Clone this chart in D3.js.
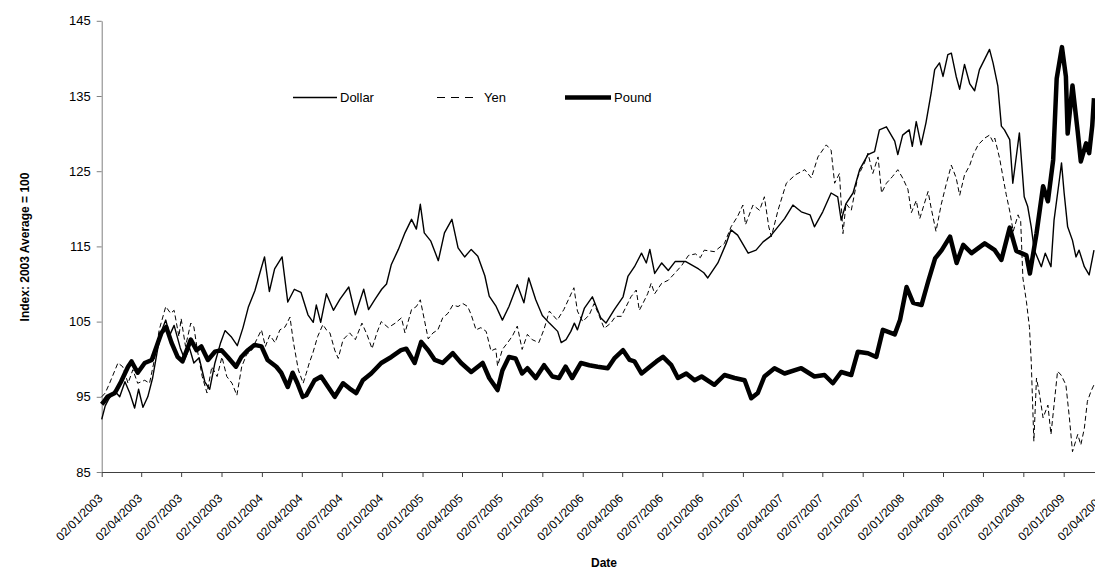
<!DOCTYPE html>
<html>
<head>
<meta charset="utf-8">
<script src="https://d3js.org/d3.v7.min.js"></script>
<style>
    body { margin: 0; background: #fff; }
    svg text { font-family: Arial, "Liberation Sans", sans-serif; fill: #000; }
</style>
</head>
<body>
<script>

    // Exchange rate indices, 2003 average = 100
    var dollar = [
        ["2003-01-02", 92.0], ["2003-01-10", 93.8], ["2003-01-17", 94.6], ["2003-01-31", 95.8], ["2003-02-12", 95.0],
        ["2003-02-24", 97.0], ["2003-03-07", 95.5], ["2003-03-18", 93.5], ["2003-03-27", 96.0], ["2003-04-06", 93.6],
        ["2003-04-17", 95.0], ["2003-04-28", 97.5], ["2003-05-10", 101.5], ["2003-05-20", 104.0], ["2003-05-28", 105.2],
        ["2003-06-06", 103.2], ["2003-06-16", 104.5], ["2003-06-30", 101.5], ["2003-07-10", 100.0], ["2003-07-21", 101.5],
        ["2003-07-31", 99.5], ["2003-08-12", 100.2], ["2003-08-25", 97.0], ["2003-09-05", 96.0], ["2003-09-17", 99.5],
        ["2003-09-30", 102.2], ["2003-10-10", 103.8], ["2003-10-24", 103.0], ["2003-11-07", 101.8], ["2003-11-20", 104.2],
        ["2003-12-02", 106.9], ["2003-12-17", 109.1], ["2003-12-31", 112.0], ["2004-01-08", 113.6], ["2004-01-19", 109.0],
        ["2004-01-31", 112.0], ["2004-02-17", 113.6], ["2004-03-01", 107.6], ["2004-03-16", 109.3], ["2004-03-31", 108.9],
        ["2004-04-16", 105.9], ["2004-04-28", 104.9], ["2004-05-05", 107.2], ["2004-05-15", 104.9], ["2004-05-28", 108.7],
        ["2004-06-13", 106.5], ["2004-06-28", 108.0], ["2004-07-18", 109.6], ["2004-08-02", 105.9], ["2004-08-21", 109.3],
        ["2004-09-01", 106.6], ["2004-09-16", 108.0], ["2004-10-01", 109.3], ["2004-10-12", 110.0], ["2004-10-23", 112.6],
        ["2004-11-08", 114.6], ["2004-11-23", 116.8], ["2004-12-08", 118.6], ["2004-12-19", 117.3], ["2004-12-28", 120.6],
        ["2005-01-06", 116.8], ["2005-01-21", 115.7], ["2005-02-07", 113.1], ["2005-02-21", 116.8], ["2005-03-10", 118.6],
        ["2005-03-24", 114.8], ["2005-04-08", 113.6], ["2005-04-23", 114.6], ["2005-05-08", 113.7], ["2005-05-24", 111.1],
        ["2005-06-03", 108.4], ["2005-06-18", 107.1], ["2005-07-03", 105.2], ["2005-07-18", 107.0], ["2005-08-06", 109.9],
        ["2005-08-21", 107.5], ["2005-09-01", 110.8], ["2005-09-17", 107.9], ["2005-10-02", 105.8], ["2005-10-18", 104.8],
        ["2005-11-06", 103.7], ["2005-11-14", 102.2], ["2005-11-25", 102.6], ["2005-12-06", 103.7], ["2005-12-14", 104.8],
        ["2005-12-21", 103.9], ["2006-01-06", 106.8], ["2006-01-24", 108.3], ["2006-02-12", 105.5], ["2006-02-24", 104.8],
        ["2006-03-15", 106.6], ["2006-04-04", 108.3], ["2006-04-15", 111.0], ["2006-04-30", 112.3], ["2006-05-16", 114.1],
        ["2006-05-27", 112.8], ["2006-06-04", 114.6], ["2006-06-15", 111.4], ["2006-07-01", 112.8], ["2006-07-16", 111.8],
        ["2006-08-01", 113.0], ["2006-08-24", 113.0], ["2006-09-08", 112.5], ["2006-09-23", 112.0], ["2006-10-05", 111.5],
        ["2006-10-14", 110.8], ["2006-11-06", 112.8], ["2006-11-25", 115.4], ["2006-12-06", 117.2], ["2006-12-21", 116.5],
        ["2007-01-14", 114.1], ["2007-02-01", 114.5], ["2007-02-17", 115.6], ["2007-03-05", 116.3], ["2007-03-20", 117.4],
        ["2007-04-07", 118.7], ["2007-04-26", 120.5], ["2007-05-15", 119.6], ["2007-06-04", 119.2], ["2007-06-14", 117.6],
        ["2007-07-03", 119.6], ["2007-07-22", 122.1], ["2007-08-06", 121.6], ["2007-08-14", 118.5], ["2007-08-25", 120.7],
        ["2007-09-10", 122.1], ["2007-09-25", 125.2], ["2007-10-14", 127.2], ["2007-10-29", 127.6], ["2007-11-09", 130.5],
        ["2007-11-25", 130.9], ["2007-12-14", 129.0], ["2007-12-21", 127.2], ["2008-01-01", 129.8], ["2008-01-16", 130.5],
        ["2008-01-23", 128.3], ["2008-02-01", 131.6], ["2008-02-12", 128.5], ["2008-02-23", 131.4], ["2008-03-06", 135.4],
        ["2008-03-14", 138.5], ["2008-03-25", 139.4], ["2008-04-02", 137.6], ["2008-04-13", 140.5], ["2008-04-21", 140.7],
        ["2008-05-02", 137.6], ["2008-05-10", 135.9], ["2008-05-21", 139.2], ["2008-06-02", 136.6], ["2008-06-13", 135.7],
        ["2008-06-24", 138.5], ["2008-07-06", 139.9], ["2008-07-17", 141.2], ["2008-07-25", 139.4], ["2008-08-05", 136.3],
        ["2008-08-13", 131.0], ["2008-08-20", 130.5], ["2008-09-01", 129.2], ["2008-09-08", 123.4], ["2008-09-23", 130.1],
        ["2008-10-04", 121.6], ["2008-10-12", 120.3], ["2008-10-20", 117.6], ["2008-10-27", 114.5], ["2008-11-12", 112.3],
        ["2008-11-21", 114.1], ["2008-12-04", 112.3], ["2008-12-11", 118.5], ["2008-12-23", 123.8], ["2008-12-28", 126.1],
        ["2009-01-03", 122.1], ["2009-01-11", 117.6], ["2009-01-22", 115.8], ["2009-01-30", 113.6], ["2009-02-06", 114.5],
        ["2009-02-18", 112.3], ["2009-03-01", 111.2], ["2009-03-12", 114.5]
    ];

    var yen = [
        ["2003-01-02", 95.0], ["2003-01-10", 95.5], ["2003-01-20", 96.8], ["2003-02-08", 99.5], ["2003-02-19", 99.0],
        ["2003-03-03", 96.8], ["2003-03-14", 98.6], ["2003-03-25", 96.8], ["2003-04-10", 97.2], ["2003-04-21", 96.8],
        ["2003-05-02", 99.9], ["2003-05-13", 103.9], ["2003-05-28", 107.0], ["2003-06-08", 106.1], ["2003-06-16", 106.5],
        ["2003-06-27", 103.0], ["2003-07-02", 105.4], ["2003-07-12", 101.7], ["2003-07-24", 104.8], ["2003-07-31", 104.3],
        ["2003-08-08", 101.2], ["2003-08-19", 97.7], ["2003-08-30", 95.5], ["2003-09-10", 99.0], ["2003-09-22", 97.7],
        ["2003-10-03", 100.3], ["2003-10-14", 97.7], ["2003-10-26", 96.8], ["2003-11-06", 95.2], ["2003-11-17", 99.0],
        ["2003-11-28", 100.6], ["2003-12-10", 101.2], ["2003-12-21", 102.6], ["2004-01-01", 103.9], ["2004-01-10", 101.7],
        ["2004-01-20", 103.2], ["2004-02-01", 102.2], ["2004-02-12", 103.9], ["2004-02-24", 104.3], ["2004-03-06", 105.6],
        ["2004-03-14", 102.2], ["2004-03-25", 98.6], ["2004-04-05", 96.8], ["2004-04-12", 98.1], ["2004-04-19", 99.5],
        ["2004-04-27", 100.8], ["2004-05-08", 103.0], ["2004-05-20", 104.6], ["2004-05-28", 103.9], ["2004-06-05", 103.5],
        ["2004-06-16", 101.2], ["2004-06-24", 100.1], ["2004-07-05", 102.6], ["2004-07-20", 103.5], ["2004-08-02", 102.6],
        ["2004-08-17", 104.8], ["2004-08-29", 103.2], ["2004-09-09", 101.4], ["2004-09-20", 103.5], ["2004-09-30", 105.0],
        ["2004-10-16", 104.2], ["2004-11-01", 104.8], ["2004-11-15", 105.5], ["2004-11-23", 103.5], ["2004-12-08", 106.6],
        ["2004-12-19", 107.0], ["2004-12-28", 107.9], ["2005-01-06", 105.3], ["2005-01-15", 102.7], ["2005-01-26", 103.5],
        ["2005-02-06", 103.9], ["2005-02-17", 105.5], ["2005-03-01", 106.1], ["2005-03-12", 107.2], ["2005-03-24", 107.0],
        ["2005-04-04", 107.4], ["2005-04-15", 107.0], ["2005-04-23", 105.9], ["2005-05-04", 103.9], ["2005-05-15", 104.2],
        ["2005-05-27", 103.7], ["2005-06-07", 101.1], ["2005-06-18", 101.4], ["2005-06-22", 99.1], ["2005-07-03", 101.3],
        ["2005-07-15", 102.2], ["2005-07-26", 103.1], ["2005-08-06", 104.4], ["2005-08-17", 101.3], ["2005-08-29", 103.3],
        ["2005-09-09", 102.6], ["2005-09-24", 102.2], ["2005-10-06", 104.0], ["2005-10-18", 106.4], ["2005-11-05", 105.2],
        ["2005-11-20", 106.6], ["2005-12-13", 109.5], ["2005-12-21", 106.4], ["2006-01-02", 105.0], ["2006-01-17", 105.9],
        ["2006-01-28", 107.4], ["2006-02-09", 105.7], ["2006-02-20", 104.1], ["2006-03-07", 104.8], ["2006-03-18", 105.7],
        ["2006-03-31", 105.7], ["2006-04-11", 107.0], ["2006-04-22", 108.3], ["2006-05-04", 109.2], ["2006-05-11", 106.5],
        ["2006-05-19", 107.4], ["2006-05-30", 108.7], ["2006-06-07", 110.1], ["2006-06-15", 108.7], ["2006-07-01", 110.1],
        ["2006-07-16", 110.5], ["2006-08-01", 111.5], ["2006-08-16", 112.5], ["2006-08-31", 113.8], ["2006-09-16", 114.0],
        ["2006-09-27", 113.5], ["2006-10-06", 114.5], ["2006-10-29", 114.3], ["2006-11-21", 115.4], ["2006-12-06", 117.6],
        ["2006-12-21", 119.0], ["2007-01-02", 120.5], ["2007-01-08", 117.9], ["2007-01-25", 120.5], ["2007-02-09", 119.8],
        ["2007-02-20", 121.6], ["2007-03-02", 117.6], ["2007-03-08", 116.3], ["2007-03-23", 119.8], ["2007-04-11", 123.4],
        ["2007-05-01", 124.5], ["2007-05-23", 125.2], ["2007-06-07", 124.1], ["2007-06-22", 126.9], ["2007-07-11", 128.5],
        ["2007-07-22", 127.8], ["2007-07-30", 123.4], ["2007-08-10", 124.7], ["2007-08-18", 116.7], ["2007-08-25", 120.7],
        ["2007-09-06", 119.8], ["2007-09-21", 124.3], ["2007-10-06", 126.1], ["2007-10-14", 127.4], ["2007-10-25", 124.7],
        ["2007-11-06", 126.9], ["2007-11-14", 122.1], ["2007-11-25", 123.4], ["2007-12-09", 124.3], ["2007-12-21", 125.2],
        ["2008-01-01", 124.1], ["2008-01-13", 122.6], ["2008-01-21", 119.5], ["2008-02-01", 121.1], ["2008-02-09", 118.7],
        ["2008-02-28", 122.3], ["2008-03-06", 120.1], ["2008-03-17", 117.0], ["2008-03-29", 120.6], ["2008-04-09", 123.2],
        ["2008-04-21", 125.8], ["2008-05-02", 124.1], ["2008-05-10", 121.8], ["2008-05-21", 124.5], ["2008-06-02", 125.8],
        ["2008-06-10", 127.2], ["2008-06-21", 128.5], ["2008-07-06", 129.4], ["2008-07-17", 129.8], ["2008-07-25", 128.9],
        ["2008-07-29", 129.4], ["2008-08-09", 126.7], ["2008-08-17", 124.1], ["2008-08-24", 121.9], ["2008-09-01", 119.7],
        ["2008-09-09", 117.0], ["2008-09-20", 119.2], ["2008-09-26", 118.3], ["2008-10-01", 110.8], ["2008-10-09", 107.7],
        ["2008-10-16", 104.2], ["2008-10-20", 99.7], ["2008-10-26", 89.1], ["2008-11-01", 97.5], ["2008-11-08", 95.3],
        ["2008-11-16", 92.2], ["2008-11-27", 93.9], ["2008-12-04", 90.0], ["2008-12-19", 98.4], ["2008-12-27", 97.9],
        ["2009-01-07", 96.6], ["2009-01-15", 92.2], ["2009-01-22", 87.7], ["2009-02-03", 90.0], ["2009-02-10", 88.6],
        ["2009-02-18", 90.8], ["2009-02-25", 94.4], ["2009-03-05", 95.7], ["2009-03-12", 96.6]
    ];

    var pound = [
        ["2003-01-02", 94.0], ["2003-01-05", 94.2], ["2003-01-15", 95.0], ["2003-02-01", 95.5], ["2003-02-15", 97.0],
        ["2003-03-03", 99.0], ["2003-03-11", 99.7], ["2003-03-25", 98.2], ["2003-04-10", 99.5], ["2003-04-26", 99.9],
        ["2003-05-07", 101.7], ["2003-05-18", 103.5], ["2003-05-29", 104.3], ["2003-06-10", 102.2], ["2003-06-24", 100.3],
        ["2003-07-05", 99.7], ["2003-07-24", 102.6], ["2003-08-06", 101.2], ["2003-08-17", 101.7], ["2003-09-01", 99.9],
        ["2003-09-17", 101.0], ["2003-10-02", 101.2], ["2003-10-16", 100.3], ["2003-11-04", 99.0], ["2003-11-16", 100.3],
        ["2003-12-01", 101.2], ["2003-12-16", 101.9], ["2004-01-01", 101.7], ["2004-01-15", 99.9], ["2004-02-04", 99.0],
        ["2004-02-15", 98.2], ["2004-03-01", 96.3], ["2004-03-12", 98.2], ["2004-03-23", 96.8], ["2004-04-04", 95.0],
        ["2004-04-12", 95.2], ["2004-05-01", 97.2], ["2004-05-16", 97.7], ["2004-06-01", 96.3], ["2004-06-16", 95.0],
        ["2004-07-05", 96.8], ["2004-07-20", 96.1], ["2004-08-04", 95.5], ["2004-08-19", 97.2], ["2004-09-07", 98.1],
        ["2004-09-30", 99.5], ["2004-10-23", 100.3], ["2004-11-14", 101.2], ["2004-11-26", 101.4], ["2004-12-15", 99.5],
        ["2004-12-30", 102.3], ["2005-01-15", 101.2], ["2005-01-30", 99.9], ["2005-02-17", 99.5], ["2005-03-12", 100.8],
        ["2005-03-31", 99.5], ["2005-04-23", 98.3], ["2005-05-19", 99.5], ["2005-06-03", 97.5], ["2005-06-22", 95.9],
        ["2005-07-03", 98.5], ["2005-07-18", 100.3], ["2005-08-02", 100.1], ["2005-08-17", 98.1], ["2005-08-29", 98.8],
        ["2005-09-17", 97.5], ["2005-10-06", 99.2], ["2005-10-25", 97.7], ["2005-11-09", 97.5], ["2005-11-24", 99.0],
        ["2005-12-09", 97.5], ["2005-12-29", 99.5], ["2006-01-17", 99.2], ["2006-02-05", 99.0], ["2006-02-28", 98.8],
        ["2006-03-15", 100.1], ["2006-04-04", 101.2], ["2006-04-19", 99.9], ["2006-04-30", 99.7], ["2006-05-16", 98.1],
        ["2006-06-04", 99.0], ["2006-06-19", 99.7], ["2006-07-04", 100.3], ["2006-07-23", 99.2], ["2006-08-07", 97.5],
        ["2006-08-26", 98.1], ["2006-09-14", 97.2], ["2006-09-30", 97.7], ["2006-10-29", 96.6], ["2006-11-21", 97.9],
        ["2006-12-14", 97.5], ["2007-01-06", 97.2], ["2007-01-21", 94.8], ["2007-02-05", 95.5], ["2007-02-20", 97.7],
        ["2007-03-15", 98.8], ["2007-04-07", 98.1], ["2007-05-15", 98.8], ["2007-06-14", 97.7], ["2007-07-07", 97.9],
        ["2007-07-26", 96.8], ["2007-08-14", 98.3], ["2007-09-06", 97.9], ["2007-09-21", 101.0], ["2007-10-14", 100.8],
        ["2007-11-02", 100.3], ["2007-11-17", 103.9], ["2007-12-14", 103.3], ["2007-12-26", 105.2], ["2008-01-10", 109.6],
        ["2008-01-25", 107.5], ["2008-02-13", 107.2], ["2008-02-28", 110.3], ["2008-03-15", 113.4], ["2008-03-30", 114.5],
        ["2008-04-18", 116.3], ["2008-05-03", 112.8], ["2008-05-18", 115.2], ["2008-06-06", 114.1], ["2008-07-06", 115.4],
        ["2008-07-29", 114.5], ["2008-08-13", 113.2], ["2008-09-01", 117.5], ["2008-09-16", 114.4], ["2008-10-09", 113.8],
        ["2008-10-17", 111.4], ["2008-11-01", 116.7], ["2008-11-16", 123.0], ["2008-11-27", 121.0], ["2008-12-09", 126.5],
        ["2008-12-17", 137.3], ["2008-12-29", 141.5], ["2009-01-07", 137.6], ["2009-01-11", 130.0], ["2009-01-22", 136.4],
        ["2009-02-03", 130.2], ["2009-02-10", 126.3], ["2009-02-22", 128.7], ["2009-03-01", 127.4], ["2009-03-08", 131.0],
        ["2009-03-12", 134.7]
    ];

    var yTicks = [85, 95, 105, 115, 125, 135, 145];
    var xTicks = [
        "2003-01-02", "2003-04-02", "2003-07-02", "2003-10-02", "2004-01-02", "2004-04-02", "2004-07-02", "2004-10-02",
        "2005-01-02", "2005-04-02", "2005-07-02", "2005-10-02", "2006-01-02", "2006-04-02", "2006-07-02", "2006-10-02",
        "2007-01-02", "2007-04-02", "2007-07-02", "2007-10-02", "2008-01-02", "2008-04-02", "2008-07-02", "2008-10-02",
        "2009-01-02", "2009-04-02"
    ];
    var seriesNames = ["Dollar", "Yen", "Pound"];

    var width = 1095;
    var height = 571;
    var parseDate = d3.timeParse("%Y-%m-%d");

    // axis runs on past the right edge of the picture, the way the original is cropped
    var x = d3.scaleTime()
        .domain([parseDate("2003-01-02"), parseDate("2009-04-02")])
        .range([101.7, 1103.2]);
    var y = d3.scaleLinear()
        .domain([85, 145])
        .range([472, 20.8]);

    var svg = d3.select("body")
        .append("svg")
        .attr("width", width)
        .attr("height", height);

    // y axis
    var yAxis = svg.append("g")
        .attr("transform", "translate(101.7,0)")
        .call(d3.axisLeft(y).tickValues(yTicks).tickSize(5).tickSizeOuter(0).tickPadding(6));
    yAxis.select(".domain").attr("stroke", "#808080");
    yAxis.selectAll(".tick line").attr("stroke", "#808080");
    yAxis.selectAll("text").style("font-size", "13px");

    // x axis
    var xAxis = svg.append("g")
        .attr("transform", "translate(0,472)")
        .call(d3.axisBottom(x)
            .tickValues(xTicks.map(parseDate))
            .tickFormat(d3.timeFormat("%d/%m/%Y"))
            .tickSize(5)
            .tickSizeOuter(0));
    xAxis.select(".domain").attr("stroke", "#404040");
    xAxis.selectAll(".tick line").attr("stroke", "#404040");
    xAxis.selectAll("text")
        .attr("x", 0)
        .attr("y", 0)
        .attr("dy", "0.35em")
        .attr("transform", "translate(-1.7,24) rotate(-45)")
        .style("text-anchor", "end")
        .style("font-size", "12px");

    // axis titles
    svg.append("text")
        .attr("transform", "translate(29,247) rotate(-90)")
        .style("text-anchor", "middle")
        .style("font-size", "12px")
        .style("font-weight", "bold")
        .text("Index: 2003 Average = 100");

    svg.append("text")
        .attr("x", 604)
        .attr("y", 567)
        .style("text-anchor", "middle")
        .style("font-size", "12px")
        .style("font-weight", "bold")
        .text("Date");

    // series
    var line = d3.line()
        .x(function (d) { return x(parseDate(d[0])); })
        .y(function (d) { return y(d[1]); });

    var styles = [
        { width: 1.4, dash: null },
        { width: 1, dash: "5,3" },
        { width: 4.5, dash: null }
    ];
    var allSeries = [dollar, yen, pound];

    svg.selectAll("path.series")
        .data(allSeries)
        .enter()
        .append("path")
        .attr("class", "series")
        .attr("d", line)
        .attr("fill", "none")
        .attr("stroke", "#000")
        .attr("stroke-linejoin", "round")
        .attr("stroke-width", function (d, i) { return styles[i].width; })
        .attr("stroke-dasharray", function (d, i) { return styles[i].dash; });

    // legend
    var legendX = [293, 437, 565];
    var legend = svg.selectAll("g.legend")
        .data(seriesNames)
        .enter()
        .append("g")
        .attr("class", "legend")
        .attr("transform", function (d, i) { return "translate(" + legendX[i] + ",97.5)"; });

    legend.append("line")
        .attr("x1", 0)
        .attr("x2", function (d, i) { return i == 1 ? 40 : (i == 2 ? 46 : 44); })
        .attr("stroke", "#000")
        .attr("stroke-width", function (d, i) { return styles[i].width; })
        .attr("stroke-dasharray", function (d, i) { return i == 1 ? "8,6" : null; });

    legend.append("text")
        .attr("x", function (d, i) { return i == 1 ? 47 : (i == 2 ? 49 : 47); })
        .attr("dy", "0.35em")
        .style("font-size", "13px")
        .text(function (d) { return d; });

</script>
</body>
</html>
